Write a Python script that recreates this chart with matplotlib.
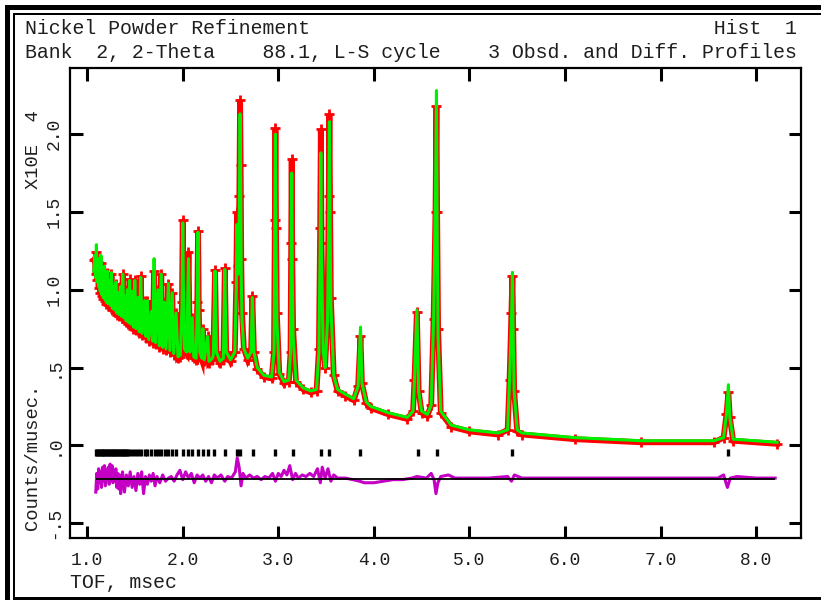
import matplotlib
matplotlib.use("Agg")
import matplotlib.pyplot as plt
from matplotlib.patches import Rectangle
from matplotlib.ticker import FixedLocator, FuncFormatter

plt.rcParams['font.family'] = ['Liberation Mono', 'DejaVu Sans Mono']

# time of flight (msec) and profiles in units of 10^4 counts/musec
tof = [1.070, 1.080, 1.088, 1.096, 1.104, 1.112, 1.120, 1.128, 1.136, 1.144,
       1.152, 1.160, 1.168, 1.176, 1.184, 1.192, 1.200, 1.210, 1.220, 1.232,
       1.244, 1.254, 1.264, 1.276, 1.288, 1.300, 1.312, 1.324, 1.336, 1.348,
       1.360, 1.372, 1.384, 1.396, 1.408, 1.420, 1.432, 1.444, 1.456, 1.470,
       1.484, 1.498, 1.512, 1.530, 1.545, 1.560, 1.575, 1.600, 1.615, 1.630,
       1.645, 1.672, 1.686, 1.700, 1.715, 1.740, 1.755, 1.775, 1.790, 1.810,
       1.825, 1.850, 1.865, 1.890, 1.905, 1.930, 1.950, 1.975, 1.992, 2.000,
       2.008, 2.018, 2.040, 2.060, 2.075, 2.100, 2.115, 2.140, 2.152, 2.160,
       2.168, 2.178, 2.200, 2.210, 2.225, 2.260, 2.275, 2.310, 2.320, 2.338,
       2.352, 2.390, 2.425, 2.440, 2.455, 2.500, 2.545, 2.560, 2.568, 2.580,
       2.592, 2.600, 2.606, 2.612, 2.620, 2.640, 2.680, 2.715, 2.728, 2.745,
       2.780, 2.850, 2.930, 2.955, 2.964, 2.970, 2.976, 2.985, 3.010, 3.060,
       3.110, 3.128, 3.135, 3.140, 3.146, 3.155, 3.185, 3.260, 3.340, 3.400,
       3.425, 3.438, 3.445, 3.452, 3.470, 3.490, 3.515, 3.528, 3.535, 3.542,
       3.550, 3.580, 3.620, 3.700, 3.790, 3.835, 3.860, 3.875, 3.920, 3.970,
       4.150, 4.350, 4.410, 4.425, 4.450, 4.468, 4.500, 4.560, 4.600, 4.625,
       4.645, 4.655, 4.662, 4.672, 4.700, 4.810, 5.000, 5.300, 5.400, 5.420,
       5.440, 5.450, 5.458, 5.468, 5.500, 5.550, 6.100, 6.800, 7.560, 7.660,
       7.690, 7.710, 7.725, 7.760, 8.220]

calc = [1.12, 1.22, 1.08, 1.29, 1.05, 1.20, 1.02, 1.16, 0.99, 1.22,
        0.97, 1.12, 0.95, 1.15, 0.94, 1.08, 0.92, 1.12, 0.91, 1.06,
        0.90, 1.11, 0.88, 1.02, 0.87, 1.05, 0.85, 0.98, 0.84, 1.02,
        0.83, 1.10, 0.82, 0.96, 0.80, 1.00, 0.79, 1.06, 0.78, 0.99,
        0.76, 1.06, 0.75, 0.95, 0.73, 1.08, 0.72, 0.93, 0.70, 0.93,
        0.68, 0.86, 0.67, 1.20, 0.66, 1.00, 0.64, 1.10, 0.63, 0.92,
        0.62, 1.04, 0.61, 0.98, 0.59, 0.85, 0.57, 0.58, 0.90, 1.43,
        0.95, 0.62, 0.60, 1.20, 0.60, 0.82, 0.57, 0.56, 0.90, 1.37,
        0.85, 0.60, 0.56, 0.75, 0.55, 0.70, 0.54, 0.56, 0.58, 1.12,
        0.60, 0.54, 0.56, 1.13, 0.60, 0.55, 0.60, 1.00, 1.42, 1.10,
        1.50, 2.13, 1.70, 1.10, 0.80, 0.62, 0.56, 0.60, 0.95, 0.60,
        0.50, 0.45, 0.44, 0.60, 1.40, 2.00, 1.30, 0.80, 0.47, 0.41,
        0.42, 0.60, 1.20, 1.75, 1.10, 0.70, 0.42, 0.37, 0.35, 0.36,
        0.60, 1.30, 1.88, 1.20, 0.60, 0.50, 0.80, 1.50, 2.08, 1.40,
        0.90, 0.45, 0.36, 0.33, 0.30, 0.38, 0.76, 0.40, 0.28, 0.25,
        0.21, 0.18, 0.22, 0.42, 0.87, 0.35, 0.22, 0.20, 0.26, 0.81,
        1.60, 2.28, 1.40, 0.70, 0.22, 0.13, 0.10, 0.08, 0.10, 0.42,
        0.80, 1.11, 0.70, 0.35, 0.10, 0.08, 0.05, 0.03, 0.03, 0.05,
        0.20, 0.39, 0.18, 0.04, 0.02]

obs = [1.19, 1.20, 1.10, 1.24, 1.06, 1.18, 1.01, 1.14, 0.98, 1.17,
       0.96, 1.12, 0.94, 1.13, 0.93, 1.07, 0.91, 1.11, 0.90, 1.05,
       0.89, 1.10, 0.87, 1.02, 0.86, 1.04, 0.84, 0.98, 0.83, 1.02,
       0.82, 1.10, 0.81, 0.96, 0.79, 1.00, 0.78, 1.07, 0.77, 0.99,
       0.75, 1.06, 0.74, 0.95, 0.72, 1.09, 0.71, 0.93, 0.69, 0.93,
       0.67, 0.86, 0.66, 1.12, 0.65, 1.00, 0.63, 1.10, 0.62, 0.92,
       0.61, 1.04, 0.60, 0.98, 0.58, 0.85, 0.56, 0.57, 0.92, 1.45,
       0.97, 0.61, 0.59, 1.24, 0.59, 0.82, 0.56, 0.55, 0.92, 1.38,
       0.87, 0.59, 0.55, 0.75, 0.54, 0.70, 0.53, 0.55, 0.58, 1.13,
       0.60, 0.53, 0.55, 1.14, 0.60, 0.54, 0.60, 1.05, 1.50, 1.15,
       1.60, 2.22, 1.80, 1.20, 0.85, 0.62, 0.55, 0.60, 0.96, 0.60,
       0.49, 0.44, 0.43, 0.60, 1.45, 2.04, 1.40, 0.85, 0.46, 0.40,
       0.41, 0.60, 1.30, 1.84, 1.20, 0.75, 0.41, 0.36, 0.34, 0.35,
       0.62, 1.40, 2.03, 1.30, 0.62, 0.50, 0.85, 1.60, 2.13, 1.50,
       0.95, 0.45, 0.35, 0.32, 0.29, 0.38, 0.70, 0.40, 0.27, 0.24,
       0.20, 0.17, 0.22, 0.42, 0.86, 0.35, 0.21, 0.19, 0.26, 0.81,
       1.50, 2.18, 1.50, 0.75, 0.21, 0.12, 0.09, 0.07, 0.10, 0.42,
       0.85, 1.09, 0.75, 0.35, 0.09, 0.07, 0.04, 0.02, 0.02, 0.05,
       0.20, 0.34, 0.18, 0.03, 0.01]

# difference curve (obs - calc), drawn about the offset baseline
diff_tof = [1.09, 1.10, 1.11, 1.12, 1.13, 1.14, 1.15, 1.16, 1.17, 1.18,
            1.19, 1.20, 1.21, 1.22, 1.23, 1.24, 1.25, 1.26, 1.27, 1.28,
            1.29, 1.30, 1.31, 1.32, 1.33, 1.34, 1.35, 1.37, 1.39, 1.41,
            1.43, 1.45, 1.47, 1.49, 1.51, 1.53, 1.55, 1.57, 1.59, 1.61,
            1.63, 1.65, 1.67, 1.69, 1.71, 1.73, 1.76, 1.79, 1.82, 1.85,
            1.88, 1.91, 1.94, 1.97, 2.00, 2.03, 2.06, 2.09, 2.12, 2.15,
            2.18, 2.21, 2.24, 2.27, 2.30, 2.33, 2.36, 2.40, 2.44, 2.47,
            2.51, 2.55, 2.57, 2.59, 2.61, 2.63, 2.66, 2.70, 2.74, 2.78,
            2.82, 2.86, 2.90, 2.94, 2.97, 3.00, 3.03, 3.06, 3.09, 3.12,
            3.15, 3.18, 3.21, 3.25, 3.29, 3.33, 3.37, 3.41, 3.44, 3.46,
            3.49, 3.52, 3.55, 3.58, 3.62, 3.70, 3.78, 3.85, 3.90, 4.00,
            4.10, 4.20, 4.30, 4.40, 4.45, 4.55, 4.60, 4.63, 4.65, 4.67,
            4.70, 4.78, 4.85, 5.00, 5.20, 5.40, 5.44, 5.47, 5.55, 6.00,
            6.50, 7.00, 7.60, 7.66, 7.70, 7.73, 7.80, 8.00, 8.20]
diff = [-0.30, -0.18, -0.28, -0.15, -0.24, -0.17, -0.27, -0.14, -0.23, -0.13,
        -0.26, -0.16, -0.22, -0.14, -0.25, -0.12, -0.20, -0.13, -0.24, -0.16,
        -0.21, -0.15, -0.27, -0.18, -0.28, -0.19, -0.31, -0.17, -0.30, -0.19,
        -0.26, -0.17, -0.27, -0.20, -0.29, -0.18, -0.25, -0.17, -0.31, -0.20,
        -0.25, -0.19, -0.23, -0.18, -0.26, -0.20, -0.24, -0.19, -0.23, -0.21,
        -0.20, -0.23, -0.19, -0.16, -0.22, -0.17, -0.21, -0.18, -0.24, -0.19,
        -0.21, -0.19, -0.23, -0.20, -0.24, -0.19, -0.21, -0.19, -0.23, -0.20,
        -0.21, -0.17, -0.08, -0.14, -0.26, -0.18, -0.21, -0.19, -0.21, -0.20,
        -0.22, -0.20, -0.21, -0.18, -0.23, -0.18, -0.20, -0.16, -0.19, -0.13,
        -0.22, -0.18, -0.21, -0.19, -0.20, -0.18, -0.20, -0.15, -0.24, -0.14,
        -0.21, -0.15, -0.23, -0.19, -0.21, -0.21, -0.22, -0.23, -0.24, -0.24,
        -0.23, -0.22, -0.22, -0.21, -0.20, -0.21, -0.18, -0.22, -0.31, -0.24,
        -0.20, -0.19, -0.21, -0.21, -0.21, -0.20, -0.23, -0.19, -0.21, -0.21,
        -0.21, -0.21, -0.21, -0.19, -0.27, -0.21, -0.20, -0.21, -0.21]
diff_base = -0.214

# reflection positions (msec)
refl = [1.090, 1.105, 1.120, 1.135, 1.150, 1.165, 1.180, 1.195, 1.210, 1.225,
        1.240, 1.255, 1.270, 1.285, 1.300, 1.315, 1.330, 1.345, 1.360, 1.375,
        1.390, 1.405, 1.420, 1.435, 1.47, 1.50, 1.53, 1.56, 1.60, 1.63,
        1.67, 1.71, 1.74, 1.77, 1.81, 1.85, 1.89, 1.93, 2.00, 2.05,
        2.10, 2.16, 2.21, 2.26, 2.33, 2.44, 2.57, 2.60, 2.73, 2.97,
        3.15, 3.45, 3.53, 3.86, 4.46, 4.66, 5.45, 7.71]

x_ticks = [1.0, 2.0, 3.0, 4.0, 5.0, 6.0, 7.0, 8.0]
y_ticks = [-0.5, 0.0, 0.5, 1.0, 1.5, 2.0]
y_tick_labels = ['-.5', '.0', '.5', '1.0', '1.5', '2.0']

W, H = 821, 601
fig = plt.figure(figsize=(W / 100, H / 100), dpi=100)


def px(x, y):
    return x / W, 1 - y / H


ax = fig.add_axes([70 / W, 1 - 538 / H, 731 / W, 470 / H])

red = '#ff0000'
green = '#00f000'
mag = '#c400c4'
ink = '#1e1e1e'

ax.plot(tof, obs, color=red, lw=4.2, solid_joinstyle='miter', zorder=2)
ax.plot(tof, obs, ls='none', marker='+', ms=7, mew=2.0, color=red, zorder=2)
ax.plot(tof, calc, color=green, lw=2.2, zorder=3)
ax.plot(diff_tof, diff, color=mag, lw=2.2, zorder=2)
ax.hlines(diff_base, 1.09, 8.20, color='black', lw=1.3, zorder=4)
ax.vlines(refl, -0.065, -0.02, color='black', lw=2.4, zorder=4)

ax.set_xlim(0.82, 8.47)
ax.set_ylim(-0.595, 2.425)

ax.xaxis.set_major_locator(FixedLocator(x_ticks))
ax.yaxis.set_major_locator(FixedLocator(y_ticks))
ax.xaxis.set_major_formatter(FuncFormatter(lambda v, p: '%.1f' % v))
ax.set_yticklabels(y_tick_labels)
for s in ax.spines.values():
    s.set_linewidth(1.6)
    s.set_color('black')
ax.tick_params(direction='in', length=9, width=2.2, top=True, right=True,
               labelsize=13, labelcolor=ink, color='black')
ax.tick_params(axis='x', pad=10)
ax.tick_params(axis='y', pad=5)
for lab in ax.get_yticklabels():
    lab.set_rotation(90)
    lab.set_va('center')

# header lines and axis captions
fig.text(*px(25, 28), 'Nickel Powder Refinement' + ' ' * 34 + 'Hist  1',
         fontsize=14.3, color=ink, va='center', ha='left')
fig.text(*px(25, 53), 'Bank  2, 2-Theta    88.1, L-S cycle    3 Obsd. and Diff. Profiles',
         fontsize=14.3, color=ink, va='center', ha='left')
fig.text(*px(70, 582), 'TOF, msec', fontsize=14.3, color=ink, va='center', ha='left')
fig.text(*px(33, 150), 'X10E  4', fontsize=13.5, color=ink, rotation=90,
         va='center', ha='center')
fig.text(*px(33, 457), 'Counts/musec.', fontsize=13.5, color=ink, rotation=90,
         va='center', ha='center')


# window frame
def frame(x0, y0, x1, y1):
    fig.patches.append(Rectangle(px(x0, y1), (x1 - x0) / W, (y1 - y0) / H,
                                 transform=fig.transFigure, color='black', lw=0))


frame(5, 5, 821, 10)
frame(5, 5, 10, 600)
frame(14, 13, 821, 15)
frame(13, 13, 15, 600)
frame(13, 597, 821, 600)

fig.savefig('out.png', dpi=100, facecolor='white')
